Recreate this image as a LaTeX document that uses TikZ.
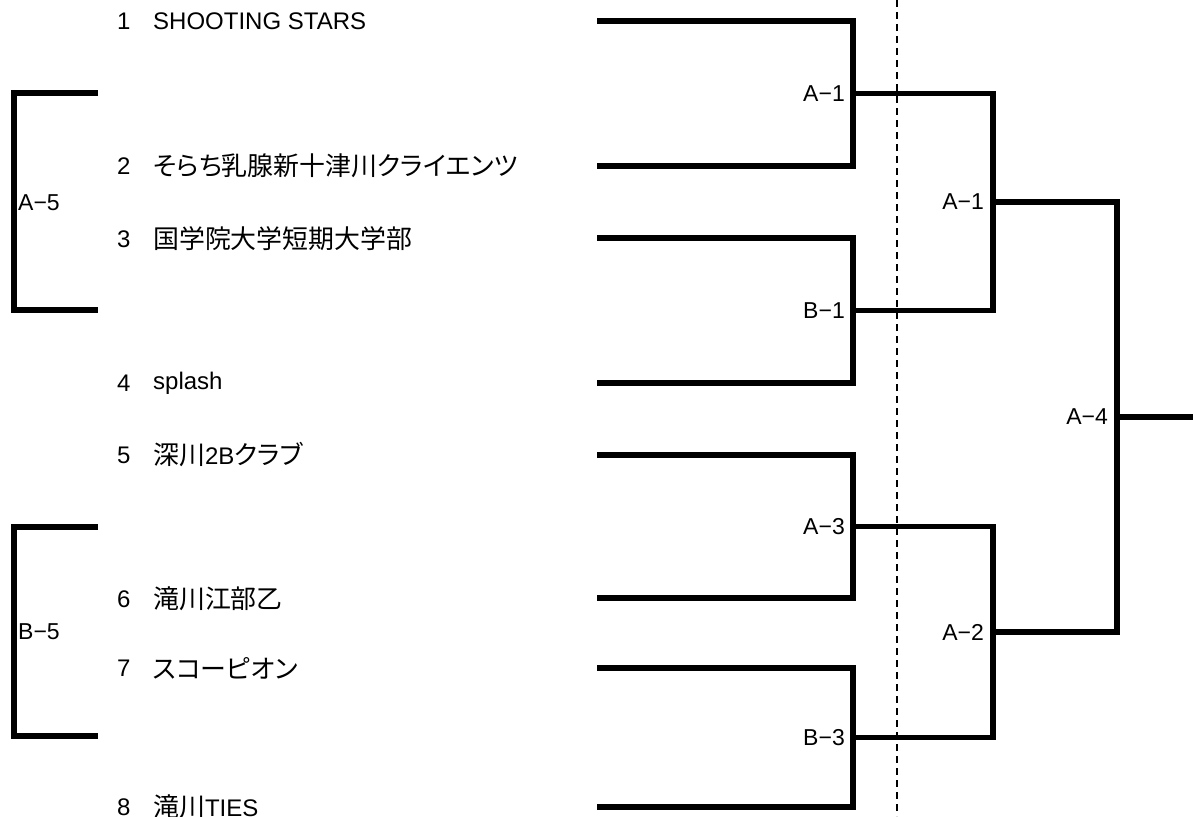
\documentclass[tikz,border=0pt]{standalone}
\usepackage{fontspec}
\setmainfont{Liberation Sans}
\newfontfamily\jp[RawFeature=+palt,Scale=1.08]{Noto Sans CJK JP}
\begin{document}
\begin{tikzpicture}[x=1pt,y=-1pt,
  bline/.style={line width=5.5pt,line join=miter},
  dline/.style={line width=1.5pt,dash pattern=on 7pt off 5pt},
  txt/.style={inner sep=0pt,anchor=west,font=\fontsize{24}{28}\selectfont},
  lbl/.style={inner sep=0pt,anchor=east,font=\fontsize{23}{28}\selectfont},
  blbl/.style={inner sep=0pt,anchor=west,font=\fontsize{23}{28}\selectfont}]
\useasboundingbox[fill=white] (0,0) rectangle (1193,816);
% dashed divider
\coordinate (dtop) at (897,0);
\coordinate (dbot) at (897,816);
\draw[dline] (dtop) -- (dbot);
% team rows
\foreach \i/\y/\name in {1/21.5/{SHOOTING STARS},
  2/166/{{\jp そらち乳腺新十津川クライエンツ}},
  3/239/{{\jp 国学院大学短期大学部}},
  4/383/{splash},
  5/455/{{\jp 深川}2B{\jp クラブ}},
  6/599/{{\jp 滝川江部乙}},
  7/668/{{\jp スコーピオン}},
  8/807/{{\jp 滝川}TIES}}{
  \node[txt] (n\i) at (117,\y) {\i};
  \node[txt] (t\i) at (153,\y) {\name};
}
\foreach \i/\y in {1/21,2/166,3/238,4/383,5/455,6/598,7/668,8/807}{
  \coordinate (s\i) at (597,\y);
}
% round 1 match points
\coordinate (m1) at (853,93.5);
\coordinate (m2) at (853,310.5);
\coordinate (m3) at (853,526.5);
\coordinate (m4) at (853,737.5);
% round 2
\coordinate (q1) at (993,202);
\coordinate (q2) at (993,632);
% final
\coordinate (f) at (1117,417);
\coordinate (fe) at (1193,417);
\draw[bline] (s1) -| (m1) |- (s2);
\draw[bline] (s3) -| (m2) |- (s4);
\draw[bline] (s5) -| (m3) |- (s6);
\draw[bline] (s7) -| (m4) |- (s8);
\draw[bline] (m1) -| (q1) |- (m2);
\draw[bline] (m3) -| (q2) |- (m4);
\draw[bline] (q1) -| (f) |- (q2);
\draw[bline] (f) -- (fe);
% labels
\node[lbl] (l1) at (845,93.5) {A−1};
\node[lbl] (l2) at (845,310.5) {B−1};
\node[lbl] (l3) at (845,526.5) {A−3};
\node[lbl] (l4) at (845,737.5) {B−3};
\node[lbl] (l5) at (984,202) {A−1};
\node[lbl] (l6) at (984,632) {A−2};
\node[lbl] (l7) at (1108,417) {A−4};
% left brackets
\coordinate (a5t) at (98,93);
\coordinate (a5b) at (98,310);
\coordinate (a5v) at (14,200);
\draw[bline] (a5t) -| (a5v) |- (a5b);
\node[blbl] (a5) at (18,203) {A−5};
\coordinate (b5t) at (98,527);
\coordinate (b5b) at (98,736);
\coordinate (b5v) at (14,630);
\draw[bline] (b5t) -| (b5v) |- (b5b);
\node[blbl] (b5) at (18,632) {B−5};
\end{tikzpicture}
\end{document}
